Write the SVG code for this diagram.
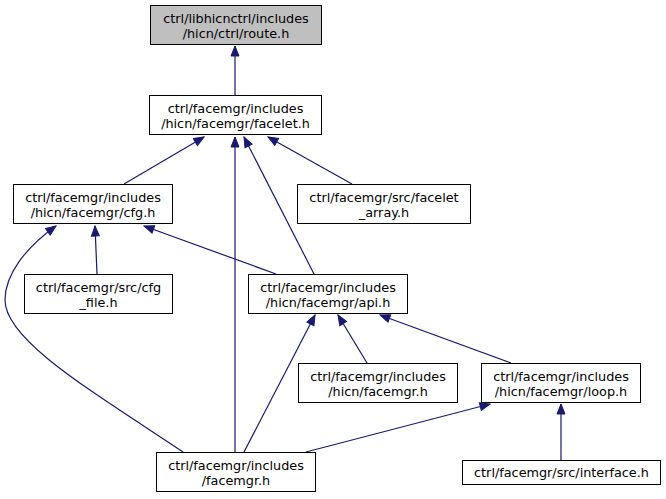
<svg xmlns="http://www.w3.org/2000/svg" width="666" height="499" viewBox="0 0 666 499">
<defs>
<style>
.node rect{fill:#ffffff;stroke:#000000;stroke-width:1}
.node.root rect{fill:#bfbfbf}
.node text{font-family:"DejaVu Sans","Noto Sans",sans-serif;font-size:12.8px;fill:#000000;text-anchor:middle}
.edges path{fill:none;stroke:#191970;stroke-width:1.2;marker-end:url(#arr)}
</style>
<marker id="arr" viewBox="-1 -5 12 10" refX="10" refY="0" markerWidth="12" markerHeight="10" markerUnits="userSpaceOnUse" orient="auto">
<path d="M0,-4 L10,0 L0,4 z" fill="#191970" stroke="#191970" stroke-width="1"/>
</marker>
</defs>
<rect width="666" height="499" fill="#ffffff"/>
<g class="edges" id="edges">
<path d="M235,95 L235,46"/>
<path d="M124,184 L204,137"/>
<path d="M235,452 L235,137"/>
<path d="M314,274 L244,137"/>
<path d="M352,184 L268,137"/>
<path d="M97,274 L95,226"/>
<path d="M276,274 L144,226"/>
<path d="M183,452 C90,390 5,340 5,300 C5,275 25,248 56,226"/>
<path d="M244,452 L315,315"/>
<path d="M367,363 L338,315"/>
<path d="M511,363 L380,315"/>
<path d="M306,452 L490,404"/>
<path d="M561,460 L561,404"/>
</g>
<g class="node root" id="n_route"><rect x="150.5" y="5.5" width="171" height="39"/><text x="236" y="23">ctrl/libhicnctrl/includes</text><text x="236" y="38">/hicn/ctrl/route.h</text></g>
<g class="node" id="n_facelet"><rect x="149.5" y="95.5" width="172" height="39"/><text x="235.5" y="113">ctrl/facemgr/includes</text><text x="235.5" y="128">/hicn/facemgr/facelet.h</text></g>
<g class="node" id="n_cfg"><rect x="13.5" y="184.5" width="159" height="39"/><text x="93" y="202">ctrl/facemgr/includes</text><text x="93" y="217">/hicn/facemgr/cfg.h</text></g>
<g class="node" id="n_facelet_array"><rect x="297.5" y="184.5" width="173" height="39"/><text x="384" y="202">ctrl/facemgr/src/facelet</text><text x="384" y="217">_array.h</text></g>
<g class="node" id="n_cfg_file"><rect x="24.5" y="274.5" width="148" height="39"/><text x="98.5" y="292">ctrl/facemgr/src/cfg</text><text x="98.5" y="307">_file.h</text></g>
<g class="node" id="n_api"><rect x="248.5" y="274.5" width="159" height="39"/><text x="328" y="292">ctrl/facemgr/includes</text><text x="328" y="307">/hicn/facemgr/api.h</text></g>
<g class="node" id="n_hicn_facemgr"><rect x="298.5" y="363.5" width="159" height="39"/><text x="378" y="381">ctrl/facemgr/includes</text><text x="378" y="396">/hicn/facemgr.h</text></g>
<g class="node" id="n_loop"><rect x="481.5" y="363.5" width="159" height="39"/><text x="561" y="381">ctrl/facemgr/includes</text><text x="561" y="396">/hicn/facemgr/loop.h</text></g>
<g class="node" id="n_facemgr"><rect x="156.5" y="452.5" width="159" height="39"/><text x="236" y="470">ctrl/facemgr/includes</text><text x="236" y="485">/facemgr.h</text></g>
<g class="node" id="n_interface"><rect x="462.5" y="460.5" width="198" height="24"/><text x="561.5" y="477">ctrl/facemgr/src/interface.h</text></g>
</svg>
